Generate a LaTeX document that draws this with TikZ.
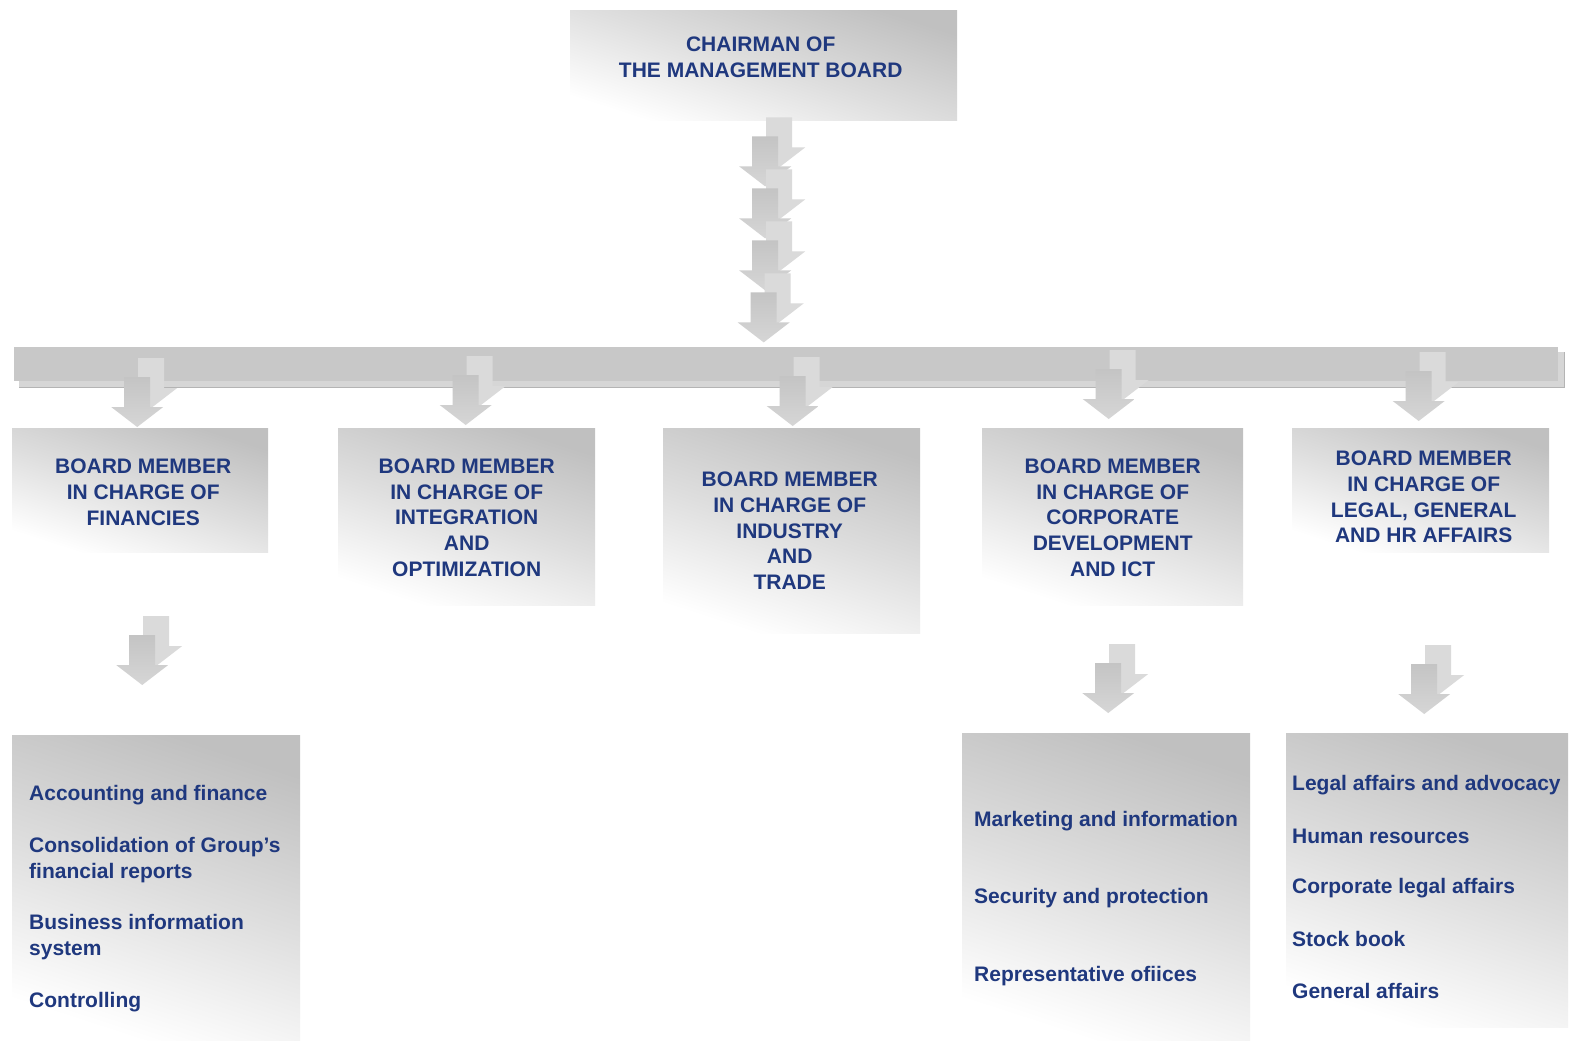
\documentclass[tikz,border=0pt]{standalone}
\usepackage{fontspec}
\setmainfont{Liberation Sans}
\usetikzlibrary{calc}
\definecolor{txt}{RGB}{31,56,126}
\definecolor{barcol}{RGB}{200,200,200}
\definecolor{barshadow}{RGB}{214,214,214}
\definecolor{barline}{RGB}{180,180,180}
\definecolor{arrfront}{RGB}{196,196,196}
\definecolor{arrfrontlow}{RGB}{214,214,214}
\definecolor{arrback}{RGB}{218,218,218}
\definecolor{boxdark}{RGB}{192,192,192}
\definecolor{boxmid}{RGB}{222,222,222}
\begin{document}
\begin{tikzpicture}[x=1pt,y=-1pt,
  every node/.style={font=\fontsize{21}{25.7}\selectfont\bfseries, text=txt},
  box/.style={shade, top color=boxdark, bottom color=white, middle color=boxmid, shading angle=-18,
              inner sep=0, anchor=north west},
  boardtext/.style={align=center},
  item/.style={anchor=west, align=left, inner sep=0},
  pics/dblarrow/.style={code={
    \fill[arrback] (14,-19) -- (-12,-39) -- (1,-39) -- (1,-69) -- (27,-69) -- (27,-39) -- (40,-39) -- cycle;
    \shade[top color=arrfront, bottom color=arrfrontlow]
      (0,0) -- (-26,-20) -- (-13,-20) -- (-13,-50) -- (13,-50) -- (13,-20) -- (26,-20) -- cycle;
  }}
]
\useasboundingbox (0,0) rectangle (1572,1043);
\fill[white] (0,0) rectangle (1572,1043);

% chairman
\node[box, minimum width=387, minimum height=110] (chair) at (570,10) {};
\node[boardtext] (chairtxt) at ($(chair.center)+(-3,-8)$) {CHAIRMAN OF\\THE MANAGEMENT BOARD};

% bar
\node[inner sep=0, anchor=north west, minimum width=1544, minimum height=34] (bar) at (14,347) {};
\fill[barshadow] ($(bar.north west)+(5,5)$) rectangle ($(bar.south east)+(6,6)$);
\draw[barline, line width=0.8] ($(bar.south west)+(5,6)$) -- ($(bar.south east)+(6,6)$) -- ($(bar.north east)+(6,5)$);
\fill[barcol] (bar.north west) rectangle (bar.south east);

% board members
\node[box, minimum width=256, minimum height=124] (b1) at (12,428) {};
\node[boardtext] (b1t) at ($(b1.center)+(3,2)$) {BOARD MEMBER\\IN CHARGE OF\\FINANCIES};
\node[box, minimum width=257, minimum height=177] (b2) at (338,428) {};
\node[boardtext] (b2t) at ($(b2.center)+(0,1)$) {BOARD MEMBER\\IN CHARGE OF\\INTEGRATION\\AND\\OPTIMIZATION};
\node[box, minimum width=257, minimum height=205] (b3) at (663,428) {};
\node[boardtext] (b3t) at ($(b3.center)+(-2,0)$) {BOARD MEMBER\\IN CHARGE OF\\INDUSTRY\\AND\\TRADE};
\node[box, minimum width=261, minimum height=177] (b4) at (982,428) {};
\node[boardtext] (b4t) at ($(b4.center)+(0,1)$) {BOARD MEMBER\\IN CHARGE OF\\CORPORATE\\DEVELOPMENT\\AND ICT};
\node[box, minimum width=257, minimum height=124] (b5) at (1292,428) {};
\node[boardtext] (b5t) at ($(b5.center)+(3,7)$) {BOARD MEMBER\\IN CHARGE OF\\LEGAL, GENERAL\\AND HR AFFAIRS};

% lists
\node[box, minimum width=288, minimum height=305] (l1) at (12,735) {};
\node[item] (l1a) at (29,795) {Accounting and finance};
\node[item] (l1b) at (29,860) {Consolidation of Group’s\\financial reports};
\node[item] (l1c) at (29,937) {Business information\\system};
\node[item] (l1d) at (29,1002) {Controlling};

\node[box, minimum width=288, minimum height=307] (l2) at (962,733) {};
\node[item] (l2a) at (974,821) {Marketing and information};
\node[item] (l2b) at (974,898) {Security and protection};
\node[item] (l2c) at (974,976) {Representative ofiices};

\node[box, minimum width=282, minimum height=294] (l3) at (1286,733) {};
\node[item] (l3a) at (1292,785) {Legal affairs and advocacy};
\node[item] (l3b) at (1292,836) {Human resources};
\node[item] (l3c) at (1292,888) {Corporate legal affairs};
\node[item] (l3d) at (1292,939) {Stock book};
\node[item] (l3e) at (1292,991) {General affairs};

% arrows chairman -> bar
\pic (c1) at ($(chair.south)+(1.5,66)$) {dblarrow};
\pic (c2) at ($(chair.south)+(1.5,118)$) {dblarrow};
\pic (c3) at ($(chair.south)+(1.5,170)$) {dblarrow};
\pic (c4) at ($(chair.south)+(0,222)$) {dblarrow};

% arrows bar -> board members
\pic (a1) at ($(b1.north)+(-3,-1)$) {dblarrow};
\pic (a2) at ($(b2.north)+(-1,-3)$) {dblarrow};
\pic (a3) at ($(b3.north)+(1,-2)$) {dblarrow};
\pic (a4) at ($(b4.north)+(-4,-9)$) {dblarrow};
\pic (a5) at ($(b5.north)+(-2,-7)$) {dblarrow};

% arrows board members -> lists
\pic (d1) at ($(l1.north)+(-14,-50)$) {dblarrow};
\pic (d2) at ($(l2.north)+(2,-20)$) {dblarrow};
\pic (d3) at ($(l3.north)+(-3,-19)$) {dblarrow};
\end{tikzpicture}
\end{document}
